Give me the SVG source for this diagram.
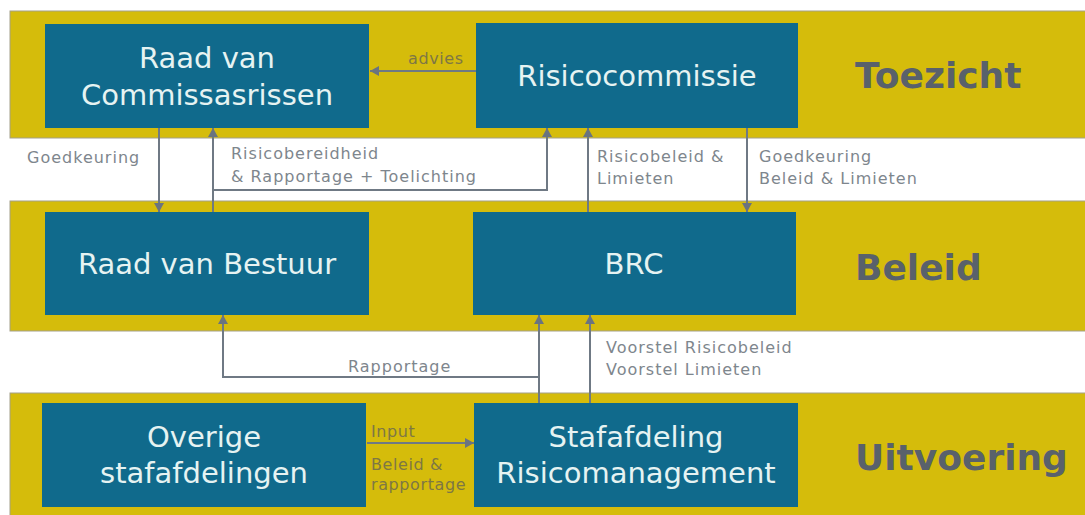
<svg xmlns="http://www.w3.org/2000/svg" width="1085" height="515" viewBox="0 0 1085 515">
<style>
.band{fill:#d5bc0b;stroke:#a3a08a;stroke-width:1}
.box{fill:#106a8c}
.bt{font-family:"DejaVu Sans",Verdana,sans-serif;font-size:29px;fill:#e6f3f2;text-anchor:middle}
.hd{font-family:"DejaVu Sans",Verdana,sans-serif;font-size:36px;font-weight:bold;fill:#59616b}
.lb{font-family:"DejaVu Sans",Verdana,sans-serif;font-size:16px;letter-spacing:1px;fill:#7e868d}
.ly{font-family:"DejaVu Sans",Verdana,sans-serif;font-size:16px;letter-spacing:0.6px;fill:#7e7744}
.cn{fill:none;stroke:#6f7984;stroke-width:2}
</style>
<defs>
<marker id="ah" viewBox="0 0 9 10" refX="9" refY="5" markerWidth="9" markerHeight="10" markerUnits="userSpaceOnUse" orient="auto">
<path d="M0,0 L9,5 L0,10 z" fill="#6a7480"/>
</marker>
</defs>
<rect width="1085" height="515" fill="#ffffff"/>
<g id="bands">
<rect class="band" x="10" y="11" width="1080" height="127"/>
<rect class="band" x="10" y="201" width="1080" height="130"/>
<rect class="band" x="10" y="393" width="1080" height="130"/>
</g>
<g id="raad-van-commissarissen">
<rect class="box" x="45" y="24" width="324" height="104"/>
<text class="bt" x="207" y="68">Raad van</text>
<text class="bt" x="207" y="105">Commissasrissen</text>
</g>
<g id="risicocommissie">
<rect class="box" x="476" y="23" width="322" height="105"/>
<text class="bt" x="637" y="86">Risicocommissie</text>
</g>
<g id="toezicht"><text class="hd" x="855" y="88">Toezicht</text></g>
<g id="raad-van-bestuur">
<rect class="box" x="45" y="212" width="324" height="103"/>
<text class="bt" x="207" y="274">Raad van Bestuur</text>
</g>
<g id="brc">
<rect class="box" x="473" y="212" width="323" height="103"/>
<text class="bt" x="634" y="274">BRC</text>
</g>
<g id="beleid"><text class="hd" x="855" y="280">Beleid</text></g>
<g id="overige-stafafdelingen">
<rect class="box" x="42" y="403" width="324" height="104"/>
<text class="bt" x="204" y="447">Overige</text>
<text class="bt" x="204" y="483">stafafdelingen</text>
</g>
<g id="stafafdeling-risicomanagement">
<rect class="box" x="474" y="403" width="324" height="104"/>
<text class="bt" x="636" y="447">Stafafdeling</text>
<text class="bt" x="636" y="483">Risicomanagement</text>
</g>
<g id="uitvoering"><text class="hd" x="855" y="470">Uitvoering</text></g>
<g id="connectors">
<line class="cn" x1="476" y1="71" x2="370" y2="71" marker-end="url(#ah)"/>
<line class="cn" x1="159" y1="128" x2="159" y2="212" marker-end="url(#ah)"/>
<line class="cn" x1="213" y1="212" x2="213" y2="128" marker-end="url(#ah)"/>
<path class="cn" d="M213,190 H547 V128" marker-end="url(#ah)"/>
<line class="cn" x1="588" y1="212" x2="588" y2="128" marker-end="url(#ah)"/>
<line class="cn" x1="747" y1="128" x2="747" y2="212" marker-end="url(#ah)"/>
<line class="cn" x1="539" y1="403" x2="539" y2="315" marker-end="url(#ah)"/>
<path class="cn" d="M539,377 H223 V315" marker-end="url(#ah)"/>
<line class="cn" x1="590" y1="403" x2="590" y2="315" marker-end="url(#ah)"/>
<line class="cn" x1="367" y1="443" x2="474" y2="443" marker-end="url(#ah)"/>
</g>
<g id="labels">
<text class="ly" x="408" y="64">advies</text>
<text class="lb" x="27" y="163">Goedkeuring</text>
<text class="lb" x="231" y="159">Risicobereidheid</text>
<text class="lb" x="231" y="182">&amp; Rapportage + Toelichting</text>
<text class="lb" x="597" y="162">Risicobeleid &amp;</text>
<text class="lb" x="597" y="184">Limieten</text>
<text class="lb" x="759" y="162">Goedkeuring</text>
<text class="lb" x="759" y="184">Beleid &amp; Limieten</text>
<text class="lb" x="348" y="372">Rapportage</text>
<text class="lb" x="606" y="353">Voorstel Risicobeleid</text>
<text class="lb" x="606" y="375">Voorstel Limieten</text>
<text class="ly" x="371" y="437">Input</text>
<text class="ly" x="371" y="470">Beleid &amp;</text>
<text class="ly" x="371" y="490">rapportage</text>
</g>
</svg>
